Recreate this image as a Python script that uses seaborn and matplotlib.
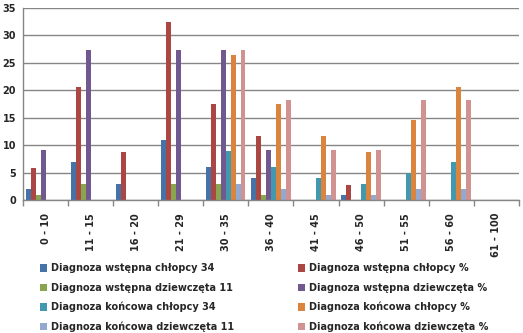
import matplotlib
matplotlib.use("Agg")
import matplotlib.pyplot as plt
import seaborn as sns
import pandas as pd
import numpy as np

categories = ["0 - 10", "11 - 15", "16 - 20", "21 - 29", "30 - 35", "36 - 40",
              "41 - 45", "46 - 50", "51 - 55", "56 - 60", "61 - 100"]

series_names = [
    "Diagnoza wstępna chłopcy 34",
    "Diagnoza wstępna chłopcy %",
    "Diagnoza wstępna dziewczęta 11",
    "Diagnoza wstępna dziewczęta %",
    "Diagnoza końcowa chłopcy 34",
    "Diagnoza końcowa chłopcy %",
    "Diagnoza końcowa dziewczęta 11",
    "Diagnoza końcowa dziewczęta %",
]

wstepna_chlopcy_34 = [2, 7, 3, 11, 6, 4, 0, 1, 0, 0, 0]
wstepna_chlopcy_pct = [5.9, 20.6, 8.8, 32.4, 17.6, 11.8, 0, 2.9, 0, 0, 0]
wstepna_dziewczeta_11 = [1, 3, 0, 3, 3, 1, 0, 0, 0, 0, 0]
wstepna_dziewczeta_pct = [9.1, 27.3, 0, 27.3, 27.3, 9.1, 0, 0, 0, 0, 0]
koncowa_chlopcy_34 = [0, 0, 0, 0, 9, 6, 4, 3, 5, 7, 0]
koncowa_chlopcy_pct = [0, 0, 0, 0, 26.5, 17.6, 11.8, 8.8, 14.7, 20.6, 0]
koncowa_dziewczeta_11 = [0, 0, 0, 0, 3, 2, 1, 1, 2, 2, 0]
koncowa_dziewczeta_pct = [0, 0, 0, 0, 27.3, 18.2, 9.1, 9.1, 18.2, 18.2, 0]

all_series = [wstepna_chlopcy_34, wstepna_chlopcy_pct, wstepna_dziewczeta_11,
              wstepna_dziewczeta_pct, koncowa_chlopcy_34, koncowa_chlopcy_pct,
              koncowa_dziewczeta_11, koncowa_dziewczeta_pct]

colors = ["#4572A7", "#AA4643", "#89A54E", "#71588F",
          "#4198AF", "#DB843D", "#93A9CF", "#D19392"]

rows = []
for name, vals in zip(series_names, all_series):
    for c, v in zip(categories, vals):
        rows.append({"kategoria": c, "seria": name, "wartosc": v})
df = pd.DataFrame(rows)

sns.set_theme(style="white")
plt.rcParams['font.family'] = ['DejaVu Sans']

fig = plt.figure(figsize=(5.23, 3.33), dpi=100)
ax = fig.add_axes([0.044, 0.398, 0.948, 0.578])

sns.barplot(data=df, x="kategoria", y="wartosc", hue="seria",
            order=categories, hue_order=series_names, palette=colors,
            width=0.87, dodge=True, ax=ax, errorbar=None, saturation=1,
            linewidth=0)

ax.set_ylim(0, 35)
ax.set_xlim(-0.5, len(categories) - 0.5)
ax.set_yticks(np.arange(0, 36, 5))
ax.yaxis.grid(True, color="#868686", linewidth=1)
ax.set_axisbelow(True)
ax.set_xlabel("")
ax.set_ylabel("")

for s in ["top", "right"]:
    ax.spines[s].set_visible(False)
ax.spines["left"].set_color("#868686")
ax.spines["bottom"].set_color("#868686")
ax.spines["left"].set_linewidth(1)
ax.spines["bottom"].set_linewidth(1)

ax.set_xticks(np.arange(len(categories)))
ax.set_xticklabels(categories, rotation=90, fontsize=7, fontweight="bold", va="top")
ax.set_xticks(np.arange(-0.5, len(categories)), minor=True)
ax.tick_params(axis="x", which="major", length=0, pad=9)
ax.tick_params(axis="x", which="minor", length=4, color="#868686", width=1, direction="out", bottom=True)
ax.tick_params(axis="y", length=0, labelsize=7, pad=5)
for lab in ax.get_yticklabels():
    lab.set_fontweight("bold")

handles, labels = ax.get_legend_handles_labels()
ax.legend_.remove()
leg_kw = dict(loc="upper left", frameon=False, prop={"size": 7, "weight": "bold"},
              handlelength=0.75, handleheight=0.75, handletextpad=0.35,
              labelspacing=0.95, borderaxespad=0, borderpad=0)
leg1 = fig.legend([handles[i] for i in (0, 2, 4, 6)], [labels[i] for i in (0, 2, 4, 6)],
                  bbox_to_anchor=(0.0765, 0.209), **leg_kw)
leg2 = fig.legend([handles[i] for i in (1, 3, 5, 7)], [labels[i] for i in (1, 3, 5, 7)],
                  bbox_to_anchor=(0.570, 0.209), **leg_kw)

fig.savefig("out.png", dpi=100)
